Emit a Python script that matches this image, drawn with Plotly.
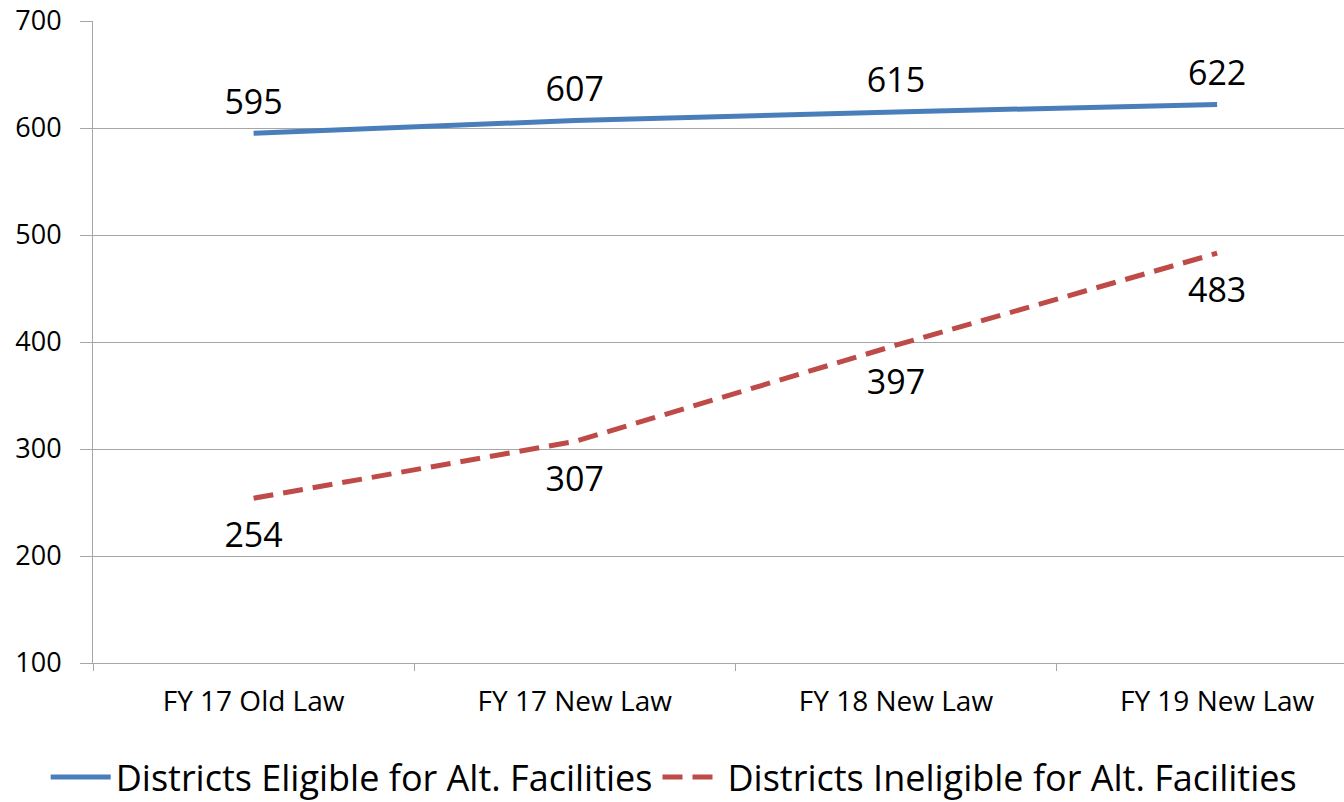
import plotly.graph_objects as go

categories = ["FY 17 Old Law", "FY 17 New Law", "FY 18 New Law", "FY 19 New Law"]
eligible = [595, 607, 615, 622]
ineligible = [254, 307, 397, 483]
y_ticks = [100, 200, 300, 400, 500, 600, 700]

FONT = "Open Sans"
BLUE = "#4A7EBB"
RED = "#BE4B48"
GRID = "#A6A6A6"

fig = go.Figure()
fig.add_trace(go.Scatter(
    x=categories, y=eligible, mode="lines+markers+text",
    name="Districts Eligible for Alt. Facilities",
    line=dict(color=BLUE, width=5),
    marker=dict(size=16, color="rgba(0,0,0,0)"),
    text=[str(v) for v in eligible], textposition="top center",
    textfont=dict(family=FONT, size=34, color="black"),
))
fig.add_trace(go.Scatter(
    x=categories, y=ineligible, mode="lines+markers+text",
    name="Districts Ineligible for Alt. Facilities",
    line=dict(color=RED, width=5, dash="20px,10px"),
    marker=dict(size=36, color="rgba(0,0,0,0)"),
    text=[str(v) for v in ineligible], textposition="bottom center",
    textfont=dict(family=FONT, size=34, color="black"),
))

fig.update_layout(
    width=1344, height=802,
    margin=dict(l=93, r=0, t=21, b=139),
    plot_bgcolor="white", paper_bgcolor="white",
    font=dict(family=FONT, color="black"),
    showlegend=True,
    legend=dict(
        orientation="h", xref="container", yref="container",
        x=0.034, y=0.031, xanchor="left", yanchor="middle",
        font=dict(family=FONT, size=36, color="black"),
        itemwidth=60, tracegroupgap=0,
    ),
    xaxis=dict(
        type="category", range=[-0.5, 3.395], automargin=False,
        tickson="boundaries", ticks="outside", ticklen=7, tickcolor=GRID,
        showgrid=False, showline=True, linecolor=GRID, linewidth=1,
        tickfont=dict(family=FONT, size=28, color="black"),
        zeroline=False, ticklabelstandoff=13,
    ),
    yaxis=dict(
        range=[100, 700], tickvals=y_ticks, automargin=False,
        ticks="outside", ticklen=12, tickcolor=GRID,
        showgrid=True, gridcolor=GRID, gridwidth=1,
        showline=True, linecolor=GRID, linewidth=1,
        tickfont=dict(family=FONT, size=27, color="black"),
        zeroline=False, ticklabelstandoff=13,
    ),
)

fig.write_html(
    "out.html",
    config={"displayModeBar": False},
    post_script="document.body.style.margin='0';",
)
